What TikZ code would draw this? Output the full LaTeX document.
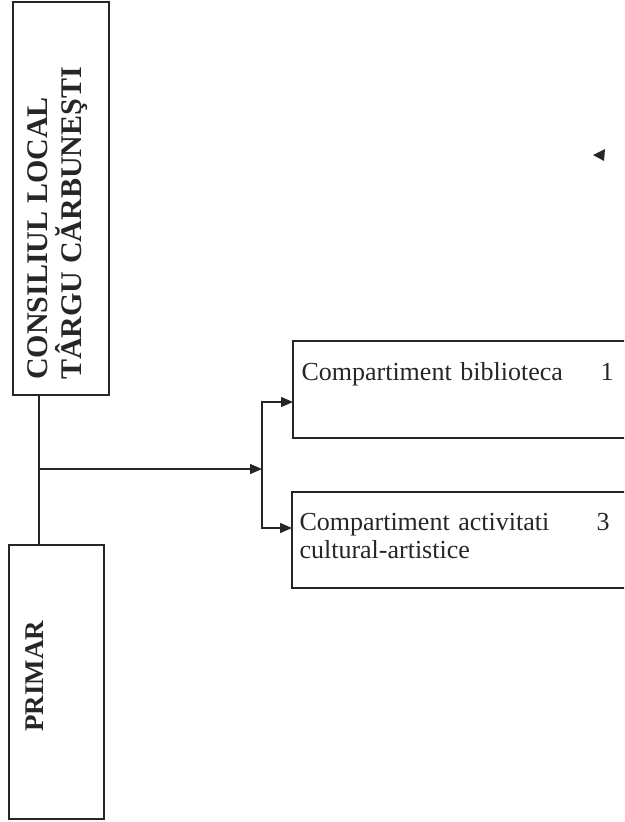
\documentclass[tikz,border=0pt]{standalone}
\usepackage{fontspec}
\setmainfont{Liberation Serif}
\usetikzlibrary{positioning,arrows.meta}

\begin{document}
\begin{tikzpicture}[x=1pt, y=-1pt,
    every node/.style={text=black!85},
    box/.style={draw=black!85, line width=1.4pt, rectangle, inner sep=0pt},
    boxtext/.style={inner sep=0pt, font=\fontsize{26}{28}\selectfont, align=left},
    titletext/.style={inner sep=0pt, rotate=90, font=\fontsize{30}{34}\selectfont\bfseries, align=left},
    conn/.style={draw=black!85, line width=1.4pt},
    arr/.style={conn, -{Triangle[length=12pt, width=10pt]}},
    ]
  \useasboundingbox (0,0) rectangle (624,822);
  \clip (0,0) rectangle (624,822);

  % left column
  \node[box, minimum width=96pt, minimum height=393pt] (consiliu) at (61,198.5) {};
  \node[box, minimum width=95pt, minimum height=274pt] (primar) at (56.5,682) {};
  \node[titletext, anchor=south west] (consiliutext) at (88,380)
    {CONSILIUL LOCAL\\TÂRGU CĂRBUNEŞTI};
  \node[titletext, anchor=base west, font=\fontsize{27}{30}\selectfont\bfseries] (primartext) at (43,732) {PRIMAR};

  % right column
  \node[box, minimum width=360pt, minimum height=97pt] (bibl) at (473,389.5) {};
  \node[box, minimum width=360pt, minimum height=96pt] (activ) at (472,540) {};
  \node[boxtext, text width=312pt, below right=22pt and 9pt of bibl.north west] (bibltext)
    {Compartiment biblioteca\hfill 1};
  \node[boxtext, text width=310pt, below right=22pt and 8pt of activ.north west] (activtext)
    {\makebox[255pt][s]{Compartiment activitati}\hfill 3\\cultural-artistice};

  % connectors
  \coordinate (split) at (39,469);
  \coordinate (fork) at (262,469);
  \coordinate (biblin) at (293,402);
  \coordinate (activin) at (292,528);
  \draw[conn] (consiliu.south -| split) -- (primar.north -| split);
  \draw[arr] (split) -- (fork);
  \draw[arr] (fork) |- (biblin);
  \draw[arr] (fork) |- (activin);

  % stray tip
  \coordinate (tip) at (593,155);
  \fill[black!85] (tip) -- ++(12,-6) -- ++(-1,12) -- cycle;
\end{tikzpicture}
\end{document}
